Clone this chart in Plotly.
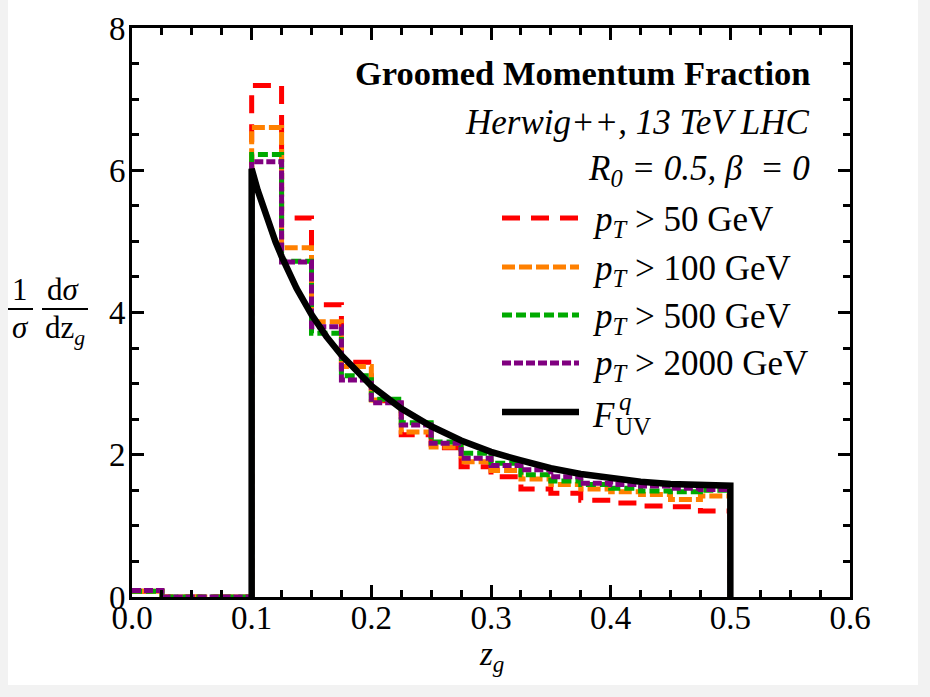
import plotly.graph_objects as go

# ---------------- data ----------------
bin_edges = [0.0, 0.025, 0.05, 0.075, 0.1, 0.125, 0.15, 0.175, 0.2, 0.225, 0.25,
             0.275, 0.3, 0.325, 0.35, 0.375, 0.4, 0.425, 0.45, 0.475, 0.5]
pt50 = [0.08, 0.0, 0.0, 0.0, 7.19, 5.33, 4.11, 3.30, 2.76, 2.28, 2.10, 1.83,
        1.69, 1.52, 1.46, 1.36, 1.32, 1.28, 1.27, 1.21]
pt100 = [0.08, 0.0, 0.0, 0.0, 6.60, 4.91, 3.87, 3.24, 2.77, 2.32, 2.11, 1.90,
         1.78, 1.66, 1.58, 1.52, 1.48, 1.44, 1.37, 1.42]
pt500 = [0.08, 0.0, 0.0, 0.0, 6.22, 4.72, 3.71, 3.11, 2.78, 2.45, 2.18, 2.02,
         1.88, 1.72, 1.63, 1.58, 1.53, 1.49, 1.48, 1.50]
pt2000 = [0.09, 0.0, 0.0, 0.0, 6.12, 4.71, 3.80, 3.05, 2.73, 2.42, 2.16, 1.95,
          1.85, 1.79, 1.69, 1.60, 1.58, 1.56, 1.53, 1.51]

fuv_z = [0.1, 0.105, 0.11, 0.115, 0.12, 0.125, 0.1375, 0.15, 0.1625, 0.175, 0.1875,
         0.2, 0.225, 0.25, 0.275, 0.3, 0.325, 0.35, 0.375, 0.4, 0.425, 0.45, 0.475, 0.5]
fuv = [6.02, 5.72, 5.46, 5.21, 4.99, 4.79, 4.34, 3.97, 3.66, 3.40, 3.17,
       2.97, 2.65, 2.40, 2.20, 2.04, 1.92, 1.81, 1.73, 1.67, 1.62, 1.59, 1.57, 1.565]

pt_cuts = ["50", "100", "500", "2000"]
series_names = [f"<i>p</i><sub><i>T</i></sub> &gt; {c} GeV" for c in pt_cuts]
fuv_name = "<i>F</i><sup><i>q</i></sup><sub>UV</sub>"
x_ticks = [0.0, 0.1, 0.2, 0.3, 0.4, 0.5, 0.6]
y_ticks = [0, 2, 4, 6, 8]

# ---------------- styling ----------------
colors = ["#ff0000", "#ff8000", "#00aa00", "#800080"]
dashes = ["18px,11px", "13px,4px", "10px,4px", "9px,3px"]
FONT = "Liberation Serif, Times New Roman, serif"

W, H = 930, 697
L, R, T, B = 132, 80, 28, 100
PW, PH = W - L - R, H - T - B


def px(xp):
    return (xp - L) / PW


def py(yp):
    return (H - B - yp) / PH


fig = go.Figure()

for vals, name, col, dash in zip([pt50, pt100, pt500, pt2000], series_names, colors, dashes):
    fig.add_trace(go.Scatter(
        x=bin_edges, y=vals + [0.0], mode="lines", name=name, showlegend=False,
        line=dict(color=col, width=5, dash=dash, shape="hv"),
    ))

fig.add_trace(go.Scatter(
    x=[fuv_z[0]] + fuv_z + [fuv_z[-1]], y=[0.0] + fuv + [0.0], mode="lines",
    name=fuv_name, showlegend=False, line=dict(color="black", width=6.5),
))

axis_common = dict(
    showline=True, linecolor="black", linewidth=3, mirror="ticks",
    ticks="inside", tickcolor="black", tickwidth=3, ticklen=12,
    showgrid=False, zeroline=False,
    tickfont=dict(family=FONT, size=33, color="black"),
)

fig.update_xaxes(
    range=[0, 0.6], tickvals=x_ticks, ticktext=[f"{v:.1f}" for v in x_ticks],
    minor=dict(ticks="inside", dtick=0.025, ticklen=7, tickwidth=2.5, tickcolor="black"),
    ticklabelstandoff=-11,
    **axis_common,
)
fig.update_yaxes(
    range=[0, 8], tickvals=y_ticks, ticktext=[str(v) for v in y_ticks],
    minor=dict(ticks="inside", dtick=0.5, ticklen=7, tickwidth=2.5, tickcolor="black"),
    ticklabelstandoff=-3,
    **axis_common,
)


def txt(text, x, y, size=33, xanchor="center"):
    return dict(text=text, x=px(x), y=py(y), xref="paper", yref="paper", showarrow=False,
                xanchor=xanchor, yanchor="middle",
                font=dict(family=FONT, size=size, color="black"))


annots = [
    txt("<b>Groomed Momentum Fraction</b>", 812, 73, 34.5, "right"),
    txt("<i>Herwig++, 13 TeV LHC</i>", 812, 122, 35, "right"),
    txt("<i>R<sub>0</sub> = 0.5, β  = 0</i>", 812, 170, 35, "right"),
    # y-axis label as two fractions
    txt("1", 20, 289, 31),
    txt("<i>σ</i>", 20, 327, 31),
    txt("d<i>σ</i>", 63, 289, 31),
    txt("dz<sub><i>g</i></sub>", 65, 330, 31),
    # x-axis label
    txt("<i>z</i><sub><i>g</i></sub>", 491, 656, 33),
]

shapes = [
    dict(type="line", xref="paper", yref="paper", x0=px(8), x1=px(33), y0=py(309), y1=py(309),
         line=dict(color="black", width=2)),
    dict(type="line", xref="paper", yref="paper", x0=px(42), x1=px(88), y0=py(309), y1=py(309),
         line=dict(color="black", width=2)),
    # light grey page edges of the screenshot
    dict(type="rect", xref="paper", yref="paper", x0=px(0), x1=px(8), y0=py(0), y1=py(H),
         fillcolor="#f2f2f2", line=dict(width=0), layer="below"),
    dict(type="rect", xref="paper", yref="paper", x0=px(918), x1=px(W), y0=py(0), y1=py(H),
         fillcolor="#f2f2f2", line=dict(width=0), layer="below"),
    dict(type="rect", xref="paper", yref="paper", x0=px(0), x1=px(W), y0=py(685), y1=py(H),
         fillcolor="#f2f2f2", line=dict(width=0), layer="below"),
]

# legend (key lines + labels)
legend_rows = [218, 267, 315, 363]
for yrow, name, col, dash in zip(legend_rows, series_names, colors, dashes):
    shapes.append(dict(type="line", xref="paper", yref="paper", x0=px(502), x1=px(579),
                       y0=py(yrow), y1=py(yrow), line=dict(color=col, width=5, dash=dash)))
    annots.append(txt(name, 590, yrow + 3, 35, "left"))
shapes.append(dict(type="line", xref="paper", yref="paper", x0=px(502), x1=px(579),
                   y0=py(412), y1=py(412), line=dict(color="black", width=6.5)))
annots.append(txt("<i>F</i>", 590, 415, 35, "left"))
annots.append(txt("<i>q</i>", 617, 402, 25, "left"))
annots.append(txt("UV", 613, 427, 25, "left"))

fig.update_layout(
    width=W, height=H,
    margin=dict(l=L, r=R, t=T, b=B),
    paper_bgcolor="white", plot_bgcolor="white",
    font=dict(family=FONT, size=33, color="black"),
    showlegend=False,
    annotations=annots, shapes=shapes,
)

fig.write_html("out.html")
